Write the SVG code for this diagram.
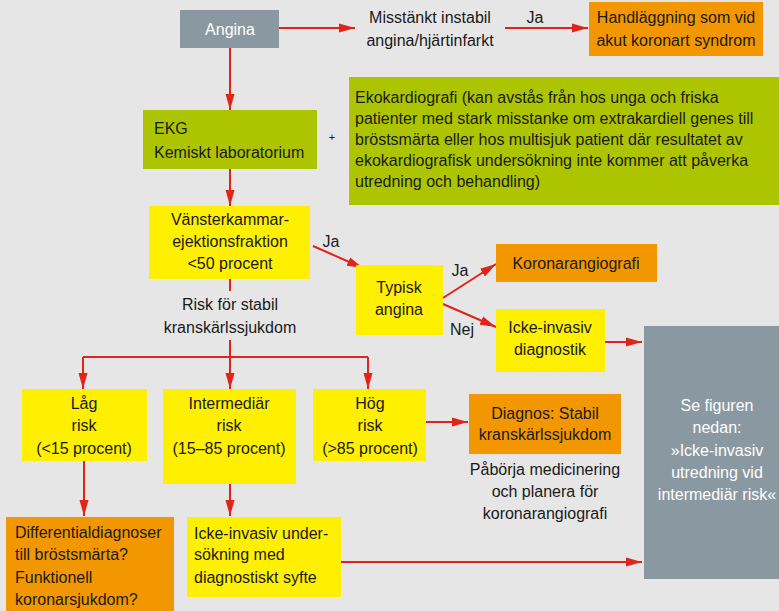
<svg xmlns="http://www.w3.org/2000/svg" width="779" height="611" viewBox="0 0 779 611">
<defs>
<style>
text{font-family:"Liberation Sans",Arial,sans-serif;font-size:16px;fill:#1a1a1a}
.c{text-anchor:middle}
.w{fill:#ffffff}
.grey{fill:#8a99a1}
.green{fill:#adc500}
.yellow{fill:#ffef00}
.orange{fill:#f29700}
.ln{stroke:#e2231a;stroke-width:2;fill:none}
.ar{marker-end:url(#ah)}
</style>
<marker id="ah" viewBox="0 0 16 10" refX="16" refY="5" markerWidth="16" markerHeight="10" markerUnits="userSpaceOnUse" orient="auto">
<path d="M0,0.5 L16,5 L0,9.5 z" fill="#e2231a"/>
</marker>
</defs>
<rect width="779" height="611" fill="#e6e6e6"/>

<g id="connectors">
<path class="ln ar" d="M279,28 H355"/>
<path class="ln ar" d="M505,28 H588"/>
<path class="ln ar" d="M230,48 V110"/>
<path class="ln ar" d="M230,169 V206"/>
<path class="ln ar" d="M313,246 L363,268"/>
<path class="ln ar" d="M443,298 L496,264"/>
<path class="ln ar" d="M443,304 L496,327"/>
<path class="ln ar" d="M605,342 H642"/>
<path class="ln" d="M230,279 V291"/>
<path class="ln ar" d="M230,340 V389"/>
<path class="ln" d="M83,357 H368"/>
<path class="ln ar" d="M83,357 V389"/>
<path class="ln ar" d="M368,357 V389"/>
<path class="ln ar" d="M426,422 H468"/>
<path class="ln ar" d="M84,461 V516"/>
<path class="ln ar" d="M230,484 V516"/>
<path class="ln ar" d="M341,562 H642"/>
<text x="535" y="23" class="c">Ja</text>
<text x="331" y="247" class="c">Ja</text>
<text x="460" y="276" class="c">Ja</text>
<text x="462" y="335" class="c">Nej</text>
<text x="332" y="141" class="c" style="font-size:11px">+</text>
</g>

<g id="angina">
<rect class="grey" x="180" y="10" width="99" height="38"/>
<text x="230" y="35" class="c w">Angina</text>
</g>

<g id="misstankt">
<text x="430" y="23" class="c">Misstänkt instabil</text>
<text x="430" y="46" class="c">angina/hjärtinfarkt</text>
</g>

<g id="handlaggning">
<rect class="orange" x="589" y="2" width="174" height="54"/>
<text x="676" y="23" class="c">Handläggning som vid</text>
<text x="676" y="46" class="c">akut koronart syndrom</text>
</g>

<g id="ekg">
<rect class="green" x="143" y="110" width="174" height="59"/>
<text x="154" y="134">EKG</text>
<text x="154" y="158">Kemiskt laboratorium</text>
</g>

<g id="ekokardiografi">
<rect class="green" x="349" y="77" width="430" height="128"/>
<text x="355" y="103">Ekokardiografi (kan avstås från hos unga och friska</text>
<text x="355" y="124">patienter med stark misstanke om extrakardiell genes till</text>
<text x="355" y="145">bröstsmärta eller hos multisjuk patient där resultatet av</text>
<text x="355" y="166">ekokardiografisk undersökning inte kommer att påverka</text>
<text x="355" y="187">utredning och behandling)</text>
</g>

<g id="vansterkammar">
<rect class="yellow" x="149" y="206" width="161" height="73"/>
<text x="230" y="225" class="c">Vänsterkammar-</text>
<text x="230" y="247" class="c">ejektionsfraktion</text>
<text x="230" y="269" class="c">&lt;50 procent</text>
</g>

<g id="risk">
<text x="230" y="310" class="c">Risk för stabil</text>
<text x="230" y="333" class="c">kranskärlssjukdom</text>
</g>

<g id="typisk">
<rect class="yellow" x="356" y="265" width="87" height="70"/>
<text x="399" y="293" class="c">Typisk</text>
<text x="399" y="315" class="c">angina</text>
</g>

<g id="koronarangiografi">
<rect class="orange" x="496" y="244" width="161" height="38"/>
<text x="576" y="269" class="c">Koronarangiografi</text>
</g>

<g id="ickeinvasivdiag">
<rect class="yellow" x="496" y="309" width="109" height="63"/>
<text x="550" y="333" class="c">Icke-invasiv</text>
<text x="550" y="355" class="c">diagnostik</text>
</g>

<g id="sefiguren">
<rect class="grey" x="644" y="326" width="135" height="253"/>
<text x="717" y="411" class="c w">Se figuren</text>
<text x="717" y="433" class="c w">nedan:</text>
<text x="717" y="456" class="c w">»Icke-invasiv</text>
<text x="717" y="478" class="c w">utredning vid</text>
<text x="717" y="500" class="c w">intermediär risk«</text>
</g>

<g id="lag">
<rect class="yellow" x="22" y="389" width="125" height="72"/>
<text x="84" y="409" class="c">Låg</text>
<text x="84" y="431" class="c">risk</text>
<text x="84" y="454" class="c">(&lt;15 procent)</text>
</g>

<g id="intermediar">
<rect class="yellow" x="163" y="389" width="133" height="95"/>
<text x="229" y="409" class="c">Intermediär</text>
<text x="229" y="431" class="c">risk</text>
<text x="229" y="454" class="c">(15–85 procent)</text>
</g>

<g id="hog">
<rect class="yellow" x="313" y="389" width="113" height="72"/>
<text x="370" y="409" class="c">Hög</text>
<text x="370" y="431" class="c">risk</text>
<text x="370" y="454" class="c">(&gt;85 procent)</text>
</g>

<g id="diagnos">
<rect class="orange" x="469" y="394" width="152" height="60"/>
<text x="545" y="419" class="c">Diagnos: Stabil</text>
<text x="545" y="440" class="c">kranskärlssjukdom</text>
</g>

<g id="paborja">
<text x="545" y="475" class="c">Påbörja medicinering</text>
<text x="545" y="497" class="c">och planera för</text>
<text x="545" y="519" class="c">koronarangiografi</text>
</g>

<g id="differential">
<rect class="orange" x="6" y="517" width="168" height="94"/>
<text x="15" y="538">Differentialdiagnoser</text>
<text x="15" y="560">till bröstsmärta?</text>
<text x="15" y="583">Funktionell</text>
<text x="15" y="605">koronarsjukdom?</text>
</g>

<g id="ickeinvasivunders">
<rect class="yellow" x="187" y="517" width="154" height="80"/>
<text x="194" y="539">Icke-invasiv under-</text>
<text x="194" y="560">sökning med</text>
<text x="194" y="583">diagnostiskt syfte</text>
</g>
</svg>
